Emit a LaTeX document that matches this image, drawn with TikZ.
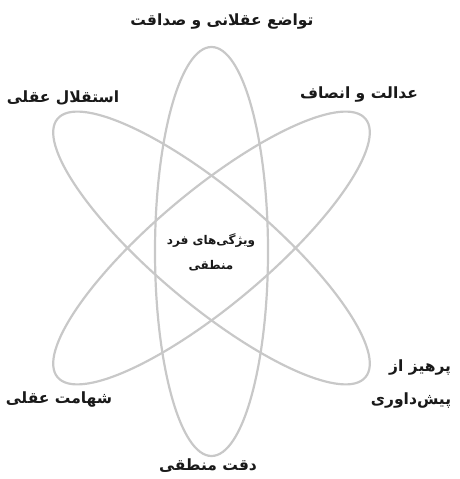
\documentclass[tikz,border=0pt]{standalone}
\usepackage{fontspec}
\TeXXeTstate=1
\newfontfamily\arabicfont[Script=Arabic]{DejaVu Sans}
\definecolor{ringgray}{RGB}{200,200,200}
\definecolor{labelink}{RGB}{25,25,25}
\tikzset{
  ring/.style={draw=ringgray, line width=2.2pt},
  lbl/.style={font=\arabicfont\bfseries\fontsize{15.5}{33}\selectfont, text=labelink, inner sep=0pt, align=center},
  midlbl/.style={font=\arabicfont\bfseries\fontsize{12}{25}\selectfont, text=labelink, inner sep=0pt, align=center}
}
\begin{document}
\begin{tikzpicture}[x=1pt,y=1pt]
\useasboundingbox (0,0) rectangle (459,479);
% rings
\coordinate (cv) at (211.5,227.5);
\coordinate (ct) at (211.5,231);
\draw[ring] (cv) ellipse [x radius=56.5pt, y radius=204.5pt];
\draw[ring] (ct) ellipse [x radius=201pt, y radius=57pt, rotate=-40];
\draw[ring] (ct) ellipse [x radius=201pt, y radius=57pt, rotate=40];
% labels
\node[lbl] (top) at (222,457) {\beginR تواضع عقلانی و صداقت\endR};
\node[lbl] (ul) at (63,381) {\beginR استقلال عقلی\endR};
\node[lbl] (ur) at (359,384) {\beginR عدالت و انصاف\endR};
\node[midlbl] (mid) at (211,227) {\beginR ویژگی^^^^200cهای فرد\endR\\\beginR منطقی\endR};
\node[lbl, align=right] (lr) at (411,94.5) {\beginR پرهیز از\endR\\\beginR پیش^^^^200cداوری\endR};
\node[lbl] (ll) at (59,79) {\beginR شهامت عقلی\endR};
\node[lbl] (bot) at (208,13) {\beginR دقت منطقی\endR};
\end{tikzpicture}
\end{document}
